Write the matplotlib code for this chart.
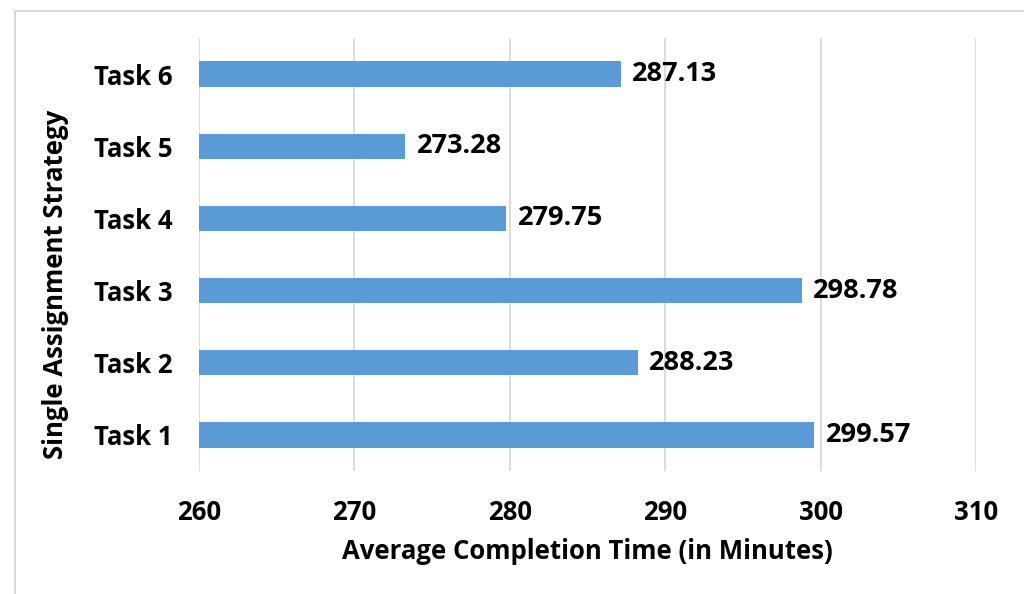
import matplotlib.pyplot as plt
from matplotlib.patches import Rectangle

tasks = ["Task 1", "Task 2", "Task 3", "Task 4", "Task 5", "Task 6"]
avg_time = [299.57, 288.23, 298.78, 279.75, 273.28, 287.13]
xticks = [260, 270, 280, 290, 300, 310]

plt.rcParams['font.family'] = ['Open Sans', 'DejaVu Sans']
plt.rcParams['font.weight'] = 'bold'
FS = 18.5

W, H = 1024, 594
fig = plt.figure(figsize=(W / 100, H / 100), dpi=100)
# plot area in pixel terms: x 199..976, y 38..471
ax = fig.add_axes([199 / W, 1 - 471 / H, (976 - 199) / W, (471 - 38) / H])

# light frame around the whole chart
fig.patches.append(Rectangle((14.5 / W, -0.1), 1.2, 1 - 10.5 / H + 0.1,
                             transform=fig.transFigure, fill=False,
                             edgecolor='#d9d9d9', linewidth=1.5))

ypos = range(len(tasks))
ax.barh(ypos, avg_time, left=0, height=0.35, color='#5b9bd5', zorder=3)
for y, v in zip(ypos, avg_time):
    ax.text(v + 0.75, y, f"{v:.2f}", va='center', ha='left',
            fontsize=19.5, fontweight='bold', color='black')

ax.set_xlim(260, 310)
ax.set_ylim(-0.5, len(tasks) - 0.5)
ax.set_xticks(xticks)
ax.set_yticks(list(ypos))
ax.set_yticklabels(tasks)
ax.grid(axis='x', color='#d9d9d9', linewidth=1.3, zorder=0)
for s in ax.spines.values():
    s.set_visible(False)
ax.tick_params(axis='both', length=0, labelsize=FS)
ax.tick_params(axis='x', pad=20)
ax.tick_params(axis='y', pad=19)
for lbl in ax.get_xticklabels() + ax.get_yticklabels():
    lbl.set_fontweight('bold')

ax.set_xlabel("Average Completion Time (in Minutes)", fontsize=FS,
              fontweight='bold', labelpad=9)
ax.set_ylabel("Single Assignment Strategy", fontsize=18.5, fontweight='bold')
ax.yaxis.set_label_coords(-0.167, 0.43)

fig.savefig("out.png", dpi=100)
